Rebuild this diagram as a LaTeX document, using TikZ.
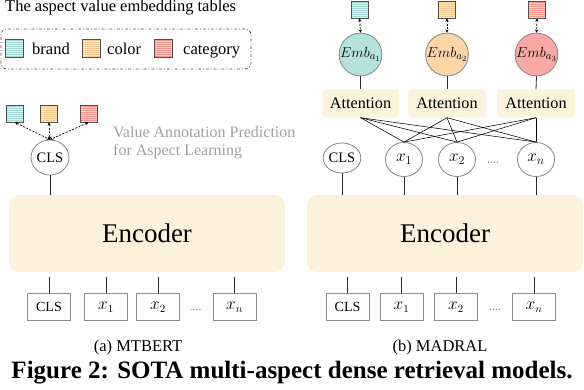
\documentclass[tikz,border=0pt]{standalone}
\usepackage{fontspec}
\setmainfont{Liberation Serif}
\usetikzlibrary{arrows.meta,shapes.geometric}
\definecolor{encfill}{HTML}{FCF2DC}
\definecolor{attfill}{HTML}{FDF2DA}
\definecolor{tealsq}{HTML}{A6DAD4}
\definecolor{orangesq}{HTML}{FDC890}
\definecolor{redsq}{HTML}{F6948C}
\definecolor{tealc}{HTML}{B6E2DE}
\definecolor{orangec}{HTML}{FDD5A9}
\definecolor{redc}{HTML}{F8A9A3}
\definecolor{sqborder}{HTML}{505050}
\definecolor{circgray}{HTML}{858585}
\definecolor{boxgray}{HTML}{8C8C8C}
\definecolor{notegray}{HTML}{A0A0A0}
\definecolor{linegray}{HTML}{2A2A2A}
\tikzset{
  sq/.style={draw=sqborder, line width=0.8pt, fill=#1, minimum width=17pt, minimum height=17pt, inner sep=0pt,
    path picture={\foreach \k in {1,...,8}{\draw[white,opacity=0.6,line width=0.5pt]
      ([yshift=-\k*2pt]path picture bounding box.north west) -- ([yshift=-\k*2pt]path picture bounding box.north east);}}},
  txt/.style={font=\fontsize{16.5}{19}\selectfont, inner sep=0pt},
  rc/.style={ellipse, draw=circgray, line width=0.8pt, fill=white, minimum width=37pt, minimum height=34pt, inner sep=0pt,
    font=\fontsize{14.5}{16}\selectfont},
  mathc/.style={font=\fontsize{16.5}{18}\selectfont},
  embc/.style={circle, draw=circgray, line width=0.8pt, fill=#1, minimum size=37.5pt, inner sep=0pt,
    font=\fontsize{15.5}{17}\selectfont},
  ib/.style={draw=boxgray, line width=1pt, fill=white, minimum width=43pt, minimum height=26pt, inner sep=0pt,
    font=\fontsize{14}{16}\selectfont},
  ibm/.style={ib, font=\fontsize{16}{18}\selectfont},
  enc/.style={fill=encfill, rounded corners=10pt, minimum width=276pt, minimum height=77pt, inner sep=0pt,
    font=\fontsize{27}{30}\selectfont},
  att/.style={fill=attfill, rounded corners=4pt, minimum width=78pt, minimum height=28pt, inner sep=0pt,
    font=\fontsize{16.2}{18}\selectfont},
  conn/.style={draw=linegray, line width=0.8pt},
  thin/.style={draw=black, line width=0.55pt},
  dasharrow/.style={draw=black, line width=0.7pt, dash pattern=on 2pt off 1.5pt, {Stealth[length=3.2pt,width=3.2pt]}-{Stealth[length=3.2pt,width=3.2pt]}},
  dotsty/.style={font=\fontsize{12}{14}\selectfont, text=circgray, inner sep=0pt},
}
\begin{document}
\begin{tikzpicture}[x=1pt,y=-1pt]
\useasboundingbox (0,0) rectangle (584,390);

% ---------- legend ----------
\node[txt, anchor=base west] (title) at (5,12) {The aspect value embedding tables};
\node[draw=sqborder, line width=0.8pt, dash dot, rounded corners=6pt, minimum width=250pt, minimum height=40pt, inner sep=0pt] (legend) at (126,49) {};
\node[sq=tealsq, minimum width=18pt, minimum height=18pt] (lgA) at (14,48) {};
\node[txt, anchor=base west] (lgAt) at (32,55) {brand};
\node[sq=orangesq, minimum width=18pt, minimum height=18pt] (lgB) at (91,48) {};
\node[txt, anchor=base west] (lgBt) at (107,55) {color};
\node[sq=redsq, minimum width=18pt, minimum height=18pt] (lgC) at (163,48) {};
\node[txt, anchor=base west] (lgCt) at (183,55) {category};

% ---------- (a) MTBERT ----------
\node[sq=tealsq] (lsA) at (15,113.5) {};
\node[sq=orangesq] (lsB) at (49,113.5) {};
\node[sq=redsq] (lsC) at (88.5,113.5) {};
\node[rc, minimum width=38pt, minimum height=35pt] (clsL) at (50,157.5) {CLS};
\draw[dasharrow] (lsA.south) -- (clsL.north);
\draw[dasharrow] (lsB.south) -- (clsL.north);
\draw[dasharrow] (lsC.south) -- (clsL.north);
\node[txt, anchor=north west, align=left, text=notegray, font=\fontsize{16}{18}\selectfont] (note) at (113,126.5)
  {Value Annotation Prediction\\for Aspect Learning};

\node[enc] (encL) at (147,233.5) {Encoder};
\draw[conn] (clsL.south) -- (clsL.south |- encL.north);

\coordinate (botL) at (0,277);
\node[ib] (inL0) at (49,307) {CLS};
\node[ibm] (inL1) at (106,307) {$x_1$};
\node[ibm] (inL2) at (158,307) {$x_2$};
\node[dotsty] (dotsL) at (195.5,310) {....};
\node[ibm] (inLn) at (234.5,307) {$x_n$};
\foreach \n in {inL0,inL1,inL2,inLn}{\draw[conn] (\n.north) -- (\n.north |- botL);}
\node[txt] (capA) at (138,348) {(a) MTBERT};

% ---------- (b) MADRAL ----------
\node[sq=tealsq] (rsA) at (359.5,9.5) {};
\node[sq=orangesq] (rsB) at (447,9.5) {};
\node[sq=redsq] (rsC) at (537,9.5) {};
\node[embc=tealc] (embA) at (360.5,54.5) {$Emb_{a_1}$};
\node[embc=orangec] (embB) at (447,54.5) {$Emb_{a_2}$};
\node[embc=redc] (embC) at (536.5,54.5) {$Emb_{a_3}$};
\draw[dasharrow] (rsA.south) -- (embA.north);
\draw[dasharrow] (rsB.south) -- (embB.north);
\draw[dasharrow] (rsC.south) -- (embC.north);

\node[att, minimum width=77pt] (attA) at (360.5,103.5) {Attention};
\node[att] (attB) at (447,103.5) {Attention};
\node[att] (attC) at (536,103.5) {Attention};
\draw[conn] (embA.south) -- (attA.north);
\draw[conn] (embB.south) -- (attB.north);
\draw[conn] (embC.south) -- (attC.north);

\node[rc, minimum width=34pt, minimum height=30pt] (clsR) at (342,158) {CLS};
\node[rc, mathc] (xR1) at (404,159.5) {$x_1$};
\node[rc, mathc] (xR2) at (457,159.5) {$x_2$};
\node[dotsty] (dotsR) at (493,163) {....};
\node[rc, mathc] (xRn) at (536,159.5) {$x_n$};
\foreach \a in {attA,attB,attC}{
  \foreach \x in {xR1,xR2,xRn}{\draw[thin] (\a.south) -- (\x.north);}}

\node[enc] (encR) at (445,233.5) {Encoder};
\foreach \n in {clsR,xR1,xR2,xRn}{\draw[conn] (\n.south) -- (\n.south |- encR.north);}

\coordinate (botR) at (0,277);
\node[ib] (inR0) at (347.5,307) {CLS};
\node[ibm] (inR1) at (401.5,307) {$x_1$};
\node[ibm] (inR2) at (456,307) {$x_2$};
\node[dotsty] (dotsR2) at (495,310) {....};
\node[ibm] (inRn) at (534,307) {$x_n$};
\foreach \n in {inR0,inR1,inR2,inRn}{\draw[conn] (\n.north) -- (\n.north |- botR);}
\node[txt] (capB) at (440,348) {(b) MADRAL};

% ---------- caption ----------
\node[inner sep=0pt, anchor=base, font=\fontsize{25}{28}\selectfont\bfseries] (caption) at (292,378)
  {Figure 2: SOTA multi-aspect dense retrieval models.};
\end{tikzpicture}
\end{document}
